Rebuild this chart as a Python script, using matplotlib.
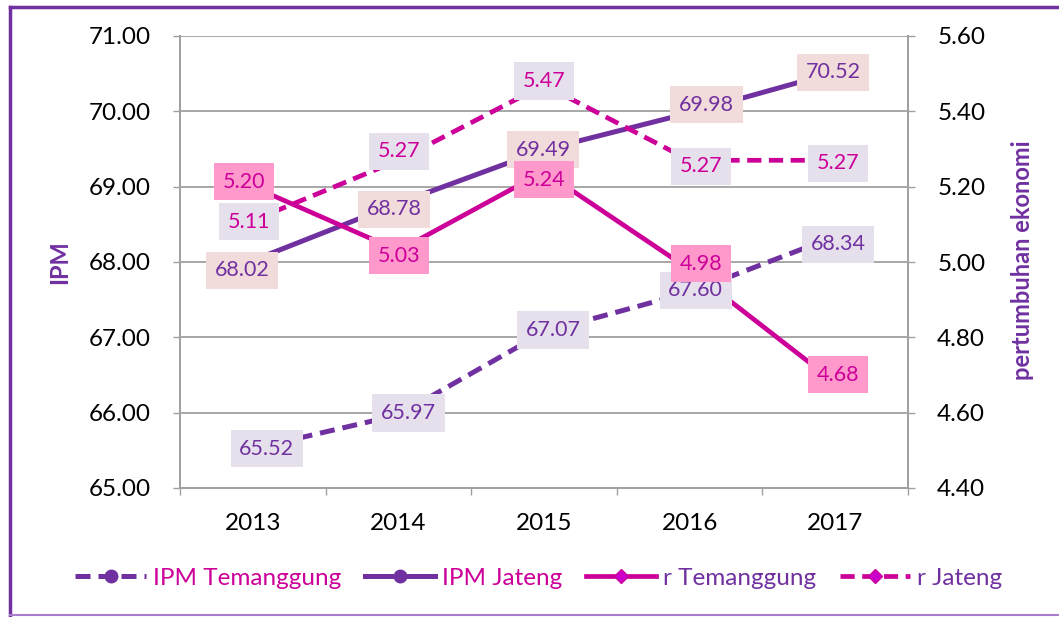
import matplotlib.pyplot as plt
from matplotlib.lines import Line2D

# data
years = ["2013", "2014", "2015", "2016", "2017"]
ipm_temanggung = [65.52, 65.97, 67.07, 67.60, 68.34]
ipm_jateng = [68.02, 68.78, 69.49, 69.98, 70.52]
r_temanggung = [5.20, 5.03, 5.24, 4.98, 4.68]
r_jateng = [5.11, 5.27, 5.47, 5.27, 5.27]

# label box offsets in pixels (dx right, dy down)
off_ipm_t = [(14, 0), (10, -2), (9, -2), (6, -2), (3, 8)]
off_ipm_j = [(-11, 10), (-4, 6), (-1, 0), (17, -8), (-2, 0)]
off_r_t = [(-9, -5), (1, 5), (0, 8), (11, -6), (3, -8)]
off_r_j = [(-4, 1), (1, -9), (0, -4), (11, 6), (3, 3)]

PURPLE = "#7030A0"
MAGENTA = "#CC0099"
GRID = "#A0A0A0"

plt.rcParams['font.family'] = ['Lato', 'DejaVu Sans']

fig = plt.figure(figsize=(10.59, 6.17), dpi=100)
ax = fig.add_axes([180 / 1059, 129 / 617, 728 / 1059, 452 / 617])
ax2 = ax.twinx()

x = list(range(len(years)))
ax.plot(x, ipm_temanggung, color=PURPLE, lw=3.6, dashes=(3, 1.6),
        marker='o', ms=9, zorder=3)
ax.plot(x, ipm_jateng, color=PURPLE, lw=3.6, marker='o', ms=9, zorder=3)
ax2.plot(x, r_temanggung, color=MAGENTA, lw=3.4, marker='D', ms=7, zorder=3)
ax2.plot(x, r_jateng, color=MAGENTA, lw=3.4, dashes=(3, 1.6),
         marker='D', ms=7, zorder=3)

ax.set_xlim(-0.5, 4.5)
ax.set_ylim(65, 71)
ax2.set_ylim(4.4, 5.6)
ax.set_yticks([65 + i for i in range(7)])
ax.set_yticklabels([f"{65 + i:.2f}" for i in range(7)])
ax2.set_yticks([4.4 + 0.2 * i for i in range(7)])
ax2.set_yticklabels([f"{4.4 + 0.2 * i:.2f}" for i in range(7)])

ax.set_xticks(x)
ax.set_xticklabels(years)
ax.set_xticks([i - 0.5 for i in range(6)], minor=True)
ax.tick_params(axis='x', which='major', length=0, pad=18, labelsize=17.5)
ax.tick_params(axis='x', which='minor', length=5, width=1, color=GRID)
ax.tick_params(axis='y', length=5, width=1, color=GRID, pad=16, labelsize=17.5)
ax2.tick_params(axis='y', length=5, width=1, color=GRID, pad=16, labelsize=17.5)

ax.grid(axis='y', color=GRID, lw=1.3)
ax.set_axisbelow(True)
for a in (ax, ax2):
    a.spines['top'].set_visible(False)
    for s in ('left', 'right', 'bottom'):
        a.spines[s].set_color(GRID)
        a.spines[s].set_linewidth(1.3)

fig.text(60 / 1059, 1 - 262 / 617, "IPM", rotation=90, color=PURPLE,
         fontsize=17, fontweight='bold', ha='center', va='center')
fig.text(1022 / 1059, 1 - 260 / 617, "pertumbuhan ekonomi", rotation=90,
         color=PURPLE, fontsize=17, fontweight='bold', ha='center', va='center')


def labels(values, offsets, trans, face, tcolor):
    for i, (v, (dx, dy)) in enumerate(zip(values, offsets)):
        ax2.annotate(f"{v:.2f}", (i, v), xycoords=trans,
                     xytext=(dx, -dy), textcoords='offset pixels',
                     ha='center', va='center', fontsize=15.5, color=tcolor,
                     bbox=dict(boxstyle='square,pad=0.4', fc=face, ec='none'),
                     zorder=10)


labels(ipm_temanggung, off_ipm_t, ax.transData, "#E6E0EC", PURPLE)
labels(ipm_jateng, off_ipm_j, ax.transData, "#F2DCDB", PURPLE)
labels(r_jateng, off_r_j, ax2.transData, "#E6E0EC", MAGENTA)
labels(r_temanggung, off_r_t, ax2.transData, "#FF99CC", MAGENTA)

handles = [
    Line2D([], [], color=PURPLE, lw=3.6, dashes=(3, 1.6), marker='o', ms=9),
    Line2D([], [], color=PURPLE, lw=3.6, marker='o', ms=9),
    Line2D([], [], color=MAGENTA, lw=3.4, marker='D', ms=7, mfc="#CC00CC"),
    Line2D([], [], color=MAGENTA, lw=3.4, dashes=(3, 1.6), marker='D', ms=7,
           mfc="#CC00CC"),
]
names = ["IPM Temanggung", "IPM Jateng", "r Temanggung", "r Jateng"]
leg = fig.legend(handles, names, loc='center', bbox_to_anchor=(0.509, 0.063),
                 ncol=4, frameon=False, fontsize=17.5, handlelength=2.9,
                 columnspacing=0.95, handletextpad=0.3)
for t, c in zip(leg.get_texts(), [MAGENTA, MAGENTA, PURPLE, PURPLE]):
    t.set_color(c)

# purple frame around the chart
fig.add_artist(Line2D([10 / 1059, 10 / 1059], [0, 1 - 7 / 617],
                      transform=fig.transFigure, color=PURPLE, lw=2.5))
fig.add_artist(Line2D([10 / 1059, 1], [1 - 7 / 617, 1 - 7 / 617],
                      transform=fig.transFigure, color=PURPLE, lw=2.5))
fig.add_artist(Line2D([10 / 1059, 1], [2 / 617, 2 / 617],
                      transform=fig.transFigure, color="#A77FCB", lw=1.5))

fig.savefig("out.png", dpi=100)
